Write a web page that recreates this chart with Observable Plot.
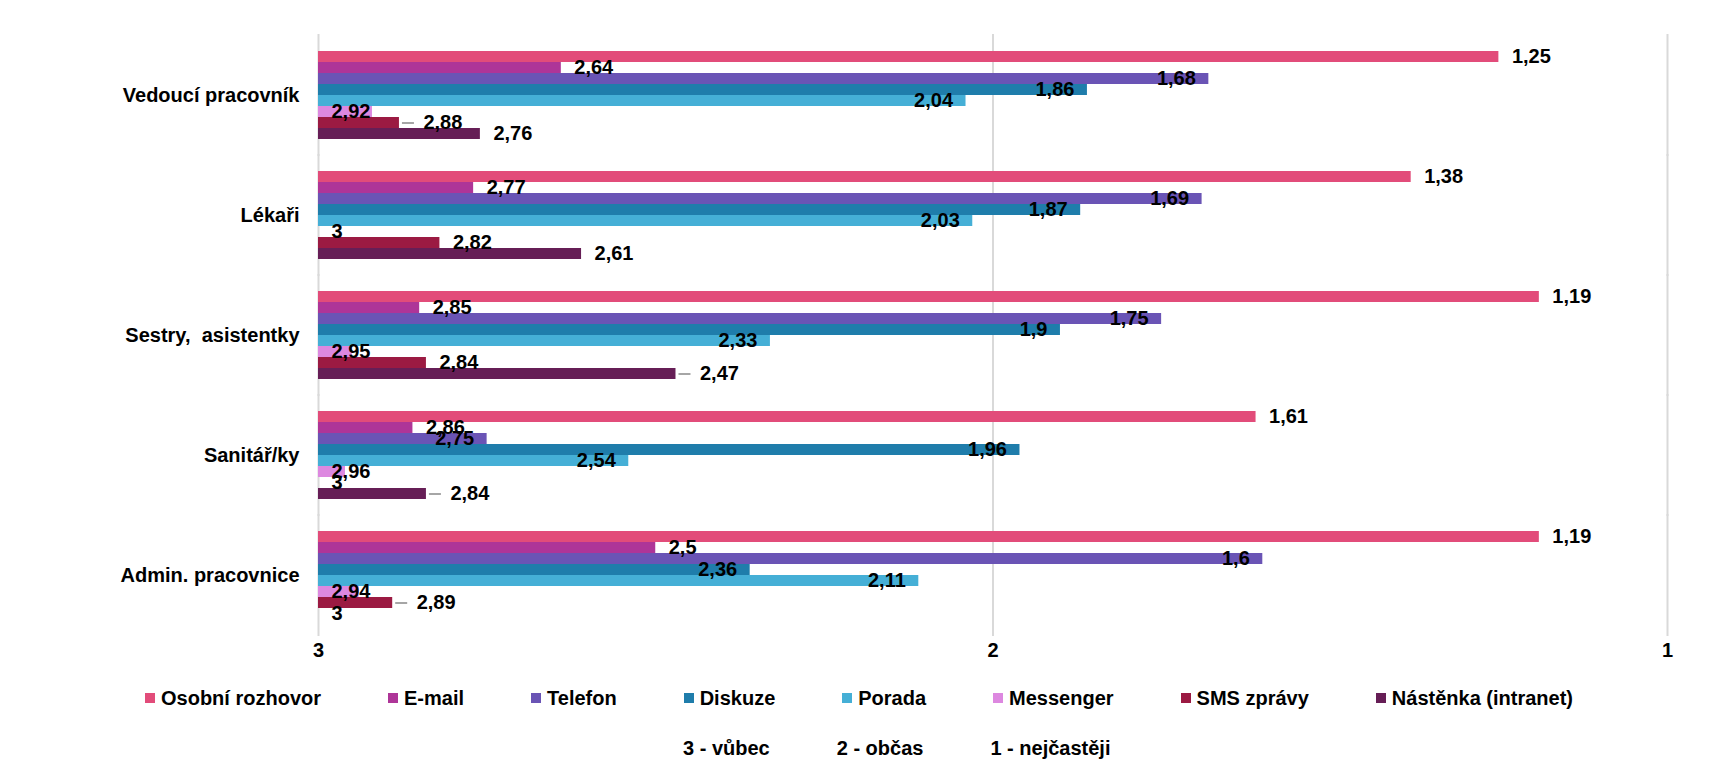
<!DOCTYPE html>
<html>
<head>
<meta charset="utf-8">
<script src="https://cdn.jsdelivr.net/npm/d3@7"></script>
<script src="https://cdn.jsdelivr.net/npm/@observablehq/plot@0.6"></script>
<style>
  body { margin: 0; background: #fff; font-family: "Liberation Sans", Arial, sans-serif; font-weight: bold; color: #000; }
  #chart svg text { white-space: pre; }
  .legend { display: flex; justify-content: center; gap: 67px; margin-top: 6px; height: 24px; line-height: 24px; font-size: 20px; width: 1718px; }
  .legend .item { display: flex; align-items: center; white-space: nowrap; }
  .legend .sw { width: 10px; height: 10px; margin-right: 6px; display: inline-block; }
  .notes { display: flex; gap: 67px; margin-top: 26px; padding-left: 683px; height: 24px; line-height: 24px; font-size: 20px; }
</style>
</head>
<body>
<div id="chart"></div>
<div class="legend" id="legend"></div>
<div class="notes" id="notes"></div>
<script>
const categories = ["Vedoucí pracovník", "Lékaři", "Sestry,  asistentky", "Sanitář/ky", "Admin. pracovnice"];
const series = ["Osobní rozhovor", "E-mail", "Telefon", "Diskuze", "Porada", "Messenger", "SMS zprávy", "Nástěnka (intranet)"];
const colors = ["#e24c7a", "#ae3598", "#6a54b5", "#1f7dab", "#45afd6", "#dd88e0", "#9b1a42", "#661e56"];

const osobniRozhovor = [1.25, 1.38, 1.19, 1.61, 1.19];
const email          = [2.64, 2.77, 2.85, 2.86, 2.5];
const telefon        = [1.68, 1.69, 1.75, 2.75, 1.6];
const diskuze        = [1.86, 1.87, 1.9, 1.96, 2.36];
const porada         = [2.04, 2.03, 2.33, 2.54, 2.11];
const messenger      = [2.92, 3, 2.95, 2.96, 2.94];
const smsZpravy      = [2.88, 2.82, 2.84, 3, 2.89];
const nastenka       = [2.76, 2.61, 2.47, 2.84, 3];

const xTicks = [3, 2, 1];
const scaleNotes = ["3 - vůbec", "2 - občas", "1 - nejčastěji"];

// label placement groups (by series) and labels drawn with a leader line
const insideLabelSeries = ["Telefon", "Diskuze", "Porada"];
const baseLabelSeries = ["Messenger"];
const leaderLabels = [
  ["Vedoucí pracovník", "SMS zprávy"],
  ["Sestry,  asistentky", "Nástěnka (intranet)"],
  ["Sanitář/ky", "Nástěnka (intranet)"],
  ["Admin. pracovnice", "SMS zprávy"]
];

const valuesBySeries = [osobniRozhovor, email, telefon, diskuze, porada, messenger, smsZpravy, nastenka];
const data = [];
categories.forEach((cat, i) => {
  series.forEach((ser, j) => {
    data.push({cat, ser, v: valuesBySeries[j][i]});
  });
});

const fmt = v => String(v).replace(".", ",");
const base = xTicks[0];
const hasLeader = d => leaderLabels.some(([c, s]) => c === d.cat && s === d.ser);

const outside = data.filter(d => !insideLabelSeries.includes(d.ser) && !baseLabelSeries.includes(d.ser) && !hasLeader(d));
const leadered = data.filter(hasLeader);
const inside = data.filter(d => insideLabelSeries.includes(d.ser));
const atBase = data.filter(d => baseLabelSeries.includes(d.ser));

const textStyle = {fill: "#000", fontSize: 20, fontWeight: "bold"};

const chart = Plot.plot({
  width: 1718,
  height: 680,
  marginTop: 33,
  marginBottom: 43,
  marginLeft: 318,
  marginRight: 51,
  style: {fontFamily: '"Liberation Sans", Arial, sans-serif', fontWeight: "bold", fontSize: "20px", color: "#000", background: "#fff"},
  x: {domain: [xTicks[0], xTicks[xTicks.length - 1]], ticks: xTicks, tickSize: 0, tickPadding: 20, tickFormat: fmt, label: null},
  y: {domain: series, padding: 0, axis: null},
  fy: {domain: categories, paddingInner: 0.215, paddingOuter: 0.11, axis: "left", tickSize: 0, tickPadding: 19, label: null},
  color: {domain: series, range: colors},
  marks: [
    Plot.ruleX(xTicks, {stroke: "#d9d9d9", strokeWidth: 2, insetTop: -14, insetBottom: -14}),
    Plot.barX(data, {fy: "cat", y: "ser", x1: () => base, x2: "v", fill: "ser"}),
    Plot.ruleY(leadered, {fy: "cat", y: "ser", x1: "v", x2: "v", insetLeft: 3, insetRight: -15, stroke: "#a6a6a6", strokeWidth: 2}),
    Plot.text(outside, {fy: "cat", y: "ser", x: "v", text: d => fmt(d.v), textAnchor: "start", dx: 13, ...textStyle}),
    Plot.text(leadered, {fy: "cat", y: "ser", x: "v", text: d => fmt(d.v), textAnchor: "start", dx: 24, ...textStyle}),
    Plot.text(inside, {fy: "cat", y: "ser", x: "v", text: d => fmt(d.v), textAnchor: "end", dx: -13, ...textStyle}),
    Plot.text(atBase, {fy: "cat", y: "ser", x: () => base, text: d => fmt(d.v), textAnchor: "start", dx: 13, ...textStyle})
  ]
});
document.getElementById("chart").appendChild(chart);

const legend = document.getElementById("legend");
series.forEach((s, i) => {
  const item = document.createElement("div");
  item.className = "item";
  const sw = document.createElement("span");
  sw.className = "sw";
  sw.style.background = colors[i];
  item.appendChild(sw);
  item.appendChild(document.createTextNode(s));
  legend.appendChild(item);
});
const notes = document.getElementById("notes");
scaleNotes.forEach(t => {
  const el = document.createElement("div");
  el.textContent = t;
  notes.appendChild(el);
});
</script>
</body>
</html>
